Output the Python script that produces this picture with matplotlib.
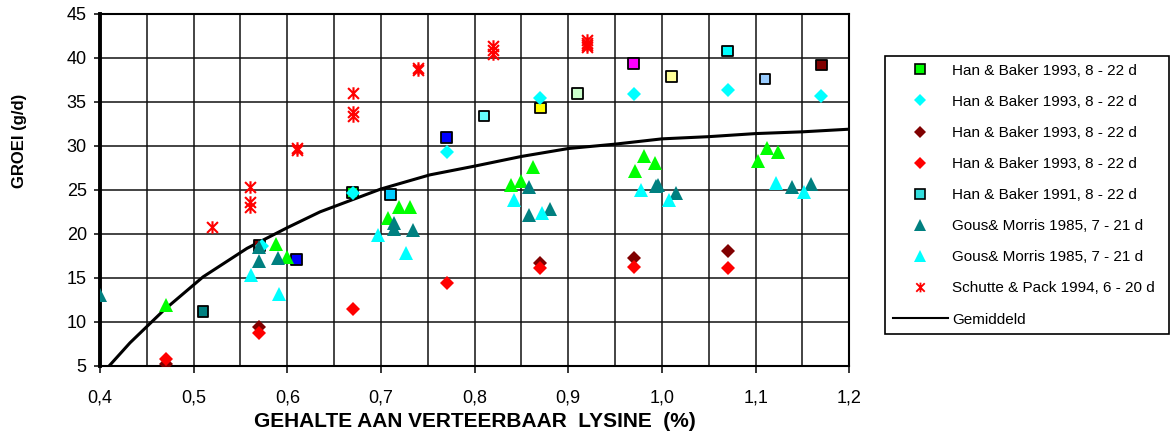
import matplotlib
matplotlib.use("Agg")
import matplotlib.pyplot as plt
from matplotlib.path import Path
from matplotlib.lines import Line2D
from matplotlib.ticker import MultipleLocator, FuncFormatter

plt.rcParams['font.family'] = ['Liberation Sans', 'DejaVu Sans']

# ---- data -------------------------------------------------------------
# Han & Baker 1993 (green)
hb93_green_x = [0.47, 0.588, 0.60, 0.707, 0.719, 0.731, 0.839, 0.85, 0.862,
                0.971, 0.981, 0.993, 1.102, 1.112, 1.124]
hb93_green_y = [11.9, 18.8, 17.4, 21.8, 23.1, 23.1, 25.5, 26.0, 27.6,
                27.1, 28.8, 28.1, 28.3, 29.8, 29.3]

# Han & Baker 1993 (cyan diamonds)
hb93_cyan_x = [0.573, 0.67, 0.77, 0.87, 0.97, 1.07, 1.17]
hb93_cyan_y = [18.6, 24.6, 29.3, 35.4, 35.9, 36.4, 35.7]

# Han & Baker 1993 (dark red diamonds)
hb93_dred_x = [0.47, 0.57, 0.87, 0.97, 1.07]
hb93_dred_y = [5.2, 9.4, 16.7, 17.2, 18.0]

# Han & Baker 1993 (red diamonds)
hb93_red_x = [0.47, 0.57, 0.67, 0.77, 0.87, 0.97, 1.07]
hb93_red_y = [5.8, 8.7, 11.4, 14.4, 16.1, 16.2, 16.1]

# Han & Baker 1991 (squares, one colour per point)
hb91_x = [0.51, 0.57, 0.61, 0.67, 0.71, 0.77, 0.81, 0.87, 0.91, 0.97,
          1.01, 1.07, 1.11, 1.17]
hb91_y = [11.2, 18.7, 17.1, 24.7, 24.5, 31.0, 33.4, 34.3, 36.0, 39.4,
          37.9, 40.8, 37.6, 39.2]
hb91_colors = ['#008080', '#800000', '#0000FF', '#00FF00', '#00CCFF',
               '#0000FF', '#66FFFF', '#FFFF00', '#CCFFCC', '#FF00FF',
               '#FFFF99', '#00FFFF', '#99CCFF', '#800000']

# Gous & Morris 1985 (teal triangles)
gm85_teal_x = [0.40, 0.57, 0.57, 0.59, 0.714, 0.714, 0.734, 0.858, 0.858,
               0.88, 0.994, 0.996, 1.015, 1.139, 1.159]
gm85_teal_y = [13.0, 18.5, 16.9, 17.2, 21.2, 20.5, 20.4, 25.3, 22.1,
               22.8, 25.4, 25.6, 24.6, 25.3, 25.7]

# Gous & Morris 1985 (cyan triangles)
gm85_cyan_x = [0.561, 0.591, 0.697, 0.727, 0.842, 0.872, 0.978, 1.008,
               1.122, 1.152]
gm85_cyan_y = [15.3, 13.1, 19.9, 17.8, 23.8, 22.4, 25.0, 23.9, 25.8, 24.8]

# Schutte & Pack 1994
sp94_x = [0.52, 0.56, 0.56, 0.56, 0.61, 0.61, 0.67, 0.67, 0.67, 0.74, 0.74,
          0.82, 0.82, 0.82, 0.92, 0.92, 0.92, 0.92]
sp94_y = [20.8, 25.3, 23.6, 23.1, 29.8, 29.5, 36.0, 33.9, 33.4, 38.9, 38.6,
          41.4, 40.9, 40.4, 42.0, 41.7, 41.5, 41.2]

# Average response curve
mean_x = [0.41, 0.432, 0.468, 0.51, 0.557, 0.60, 0.635, 0.70, 0.752, 0.80,
          0.85, 0.90, 0.95, 1.00, 1.05, 1.10, 1.15, 1.20]
mean_y = [5.0, 7.6, 11.3, 15.1, 18.35, 20.7, 22.5, 25.1, 26.7, 27.7,
          28.8, 29.7, 30.2, 30.8, 31.05, 31.4, 31.6, 31.9]

legend_labels = ['Han & Baker 1993, 8 - 22 d', 'Han & Baker 1993, 8 - 22 d',
                 'Han & Baker 1993, 8 - 22 d', 'Han & Baker 1993, 8 - 22 d',
                 'Han & Baker 1991, 8 - 22 d', 'Gous& Morris 1985, 7 - 21 d',
                 'Gous& Morris 1985, 7 - 21 d', 'Schutte & Pack 1994, 6 - 20 d',
                 'Gemiddeld']

x_ticks = [0.4, 0.5, 0.6, 0.7, 0.8, 0.9, 1.0, 1.1, 1.2]
y_ticks = [5, 10, 15, 20, 25, 30, 35, 40, 45]

# ---- figure -----------------------------------------------------------
W, H = 1171, 448
fig = plt.figure(figsize=(W / 100, H / 100), dpi=100)
ax = fig.add_axes([100 / W, 1 - 365.7 / H, 749.3 / W, 351.7 / H])

ax.set_xlim(0.4, 1.2)
ax.set_ylim(5, 45)
ax.set_xticks(x_ticks)
ax.set_yticks(y_ticks)
ax.xaxis.set_minor_locator(MultipleLocator(0.05))
ax.xaxis.set_major_formatter(FuncFormatter(lambda v, p: f"{v:.1f}".replace('.', ',')))

ax.grid(True, which='major', axis='both', color='#111111', lw=1.1, zorder=1)
ax.grid(True, which='minor', axis='x', color='#111111', lw=1.1, zorder=1)
ax.set_axisbelow(True)

ax.tick_params(axis='x', which='major', direction='out', length=5, width=1.1,
               pad=12, labelsize=13)
ax.tick_params(axis='x', which='minor', length=0)
ax.tick_params(axis='y', direction='out', length=4.5, width=1.1, pad=5,
               labelsize=13)

for side in ['top', 'right', 'bottom']:
    ax.spines[side].set_linewidth(1.5)
ax.spines['left'].set_linewidth(2.8)

ax.set_xlabel('GEHALTE AAN VERTEERBAAR  LYSINE  (%)', fontsize=15,
              fontweight='bold', labelpad=4)
ax.set_ylabel('GROEI (g/d)', fontsize=12, fontweight='bold')
ax.yaxis.set_label_coords(-0.097, 0.64)

# asterisk marker: an X with a vertical stroke
star = Path([(-1, -1), (1, 1), (-1, 1), (1, -1), (0, -1.15), (0, 1.15)],
            [Path.MOVETO, Path.LINETO, Path.MOVETO, Path.LINETO,
             Path.MOVETO, Path.LINETO])

ax.plot(mean_x, mean_y, color='black', lw=2.2, zorder=2.5)

ax.scatter(hb91_x, hb91_y, marker='s', s=7.8 ** 2, c=hb91_colors,
           edgecolors='black', linewidths=1.3, zorder=3)
ax.plot(hb93_dred_x, hb93_dred_y, 'D', ms=6.8, color='#800000', mew=0, zorder=4)
ax.plot(hb93_red_x, hb93_red_y, 'D', ms=6.8, color='#FF0000', mew=0, zorder=4)
ax.plot(hb93_cyan_x, hb93_cyan_y, 'D', ms=6.8, color='#00FFFF', mew=0, zorder=4)
ax.plot(hb93_green_x, hb93_green_y, '^', ms=9.5, color='#00FF00', mew=0, zorder=5)
ax.plot(gm85_teal_x, gm85_teal_y, '^', ms=9.5, color='#008080', mew=0, zorder=5)
ax.plot(gm85_cyan_x, gm85_cyan_y, '^', ms=9.5, color='#00FFFF', mew=0, zorder=5)
ax.plot(sp94_x, sp94_y, linestyle='none', marker=star, ms=9, mfc='none',
        mec='#FF0000', mew=1.5, zorder=6)

# ---- legend -----------------------------------------------------------
handles = [
    Line2D([], [], ls='none', marker='s', ms=6.5, mfc='#00FF00', mec='black', mew=1.2),
    Line2D([], [], ls='none', marker='D', ms=6, mfc='#00FFFF', mec='#00FFFF', mew=0),
    Line2D([], [], ls='none', marker='D', ms=6, mfc='#800000', mec='#800000', mew=0),
    Line2D([], [], ls='none', marker='D', ms=6, mfc='#FF0000', mec='#FF0000', mew=0),
    Line2D([], [], ls='none', marker='s', ms=6.5, mfc='#33DDDD', mec='black', mew=1.2),
    Line2D([], [], ls='none', marker='^', ms=8, mfc='#008080', mec='#008080', mew=0),
    Line2D([], [], ls='none', marker='^', ms=8, mfc='#00FFFF', mec='#00FFFF', mew=0),
    Line2D([], [], ls='none', marker=star, ms=7, mfc='none', mec='#FF0000', mew=1.3),
    Line2D([], [], color='black', lw=1.5),
]
leg = fig.legend(handles, legend_labels, loc='upper left',
                 bbox_to_anchor=(885 / W, (H - 336) / H, 284 / W, 280 / H),
                 mode='expand', borderaxespad=0, fontsize=11,
                 frameon=True, fancybox=False, edgecolor='black',
                 framealpha=1, borderpad=0.5, labelspacing=1.12,
                 handlelength=3.6, handletextpad=0.3)
leg.get_frame().set_linewidth(1.2)

fig.savefig('out.png', dpi=100)
